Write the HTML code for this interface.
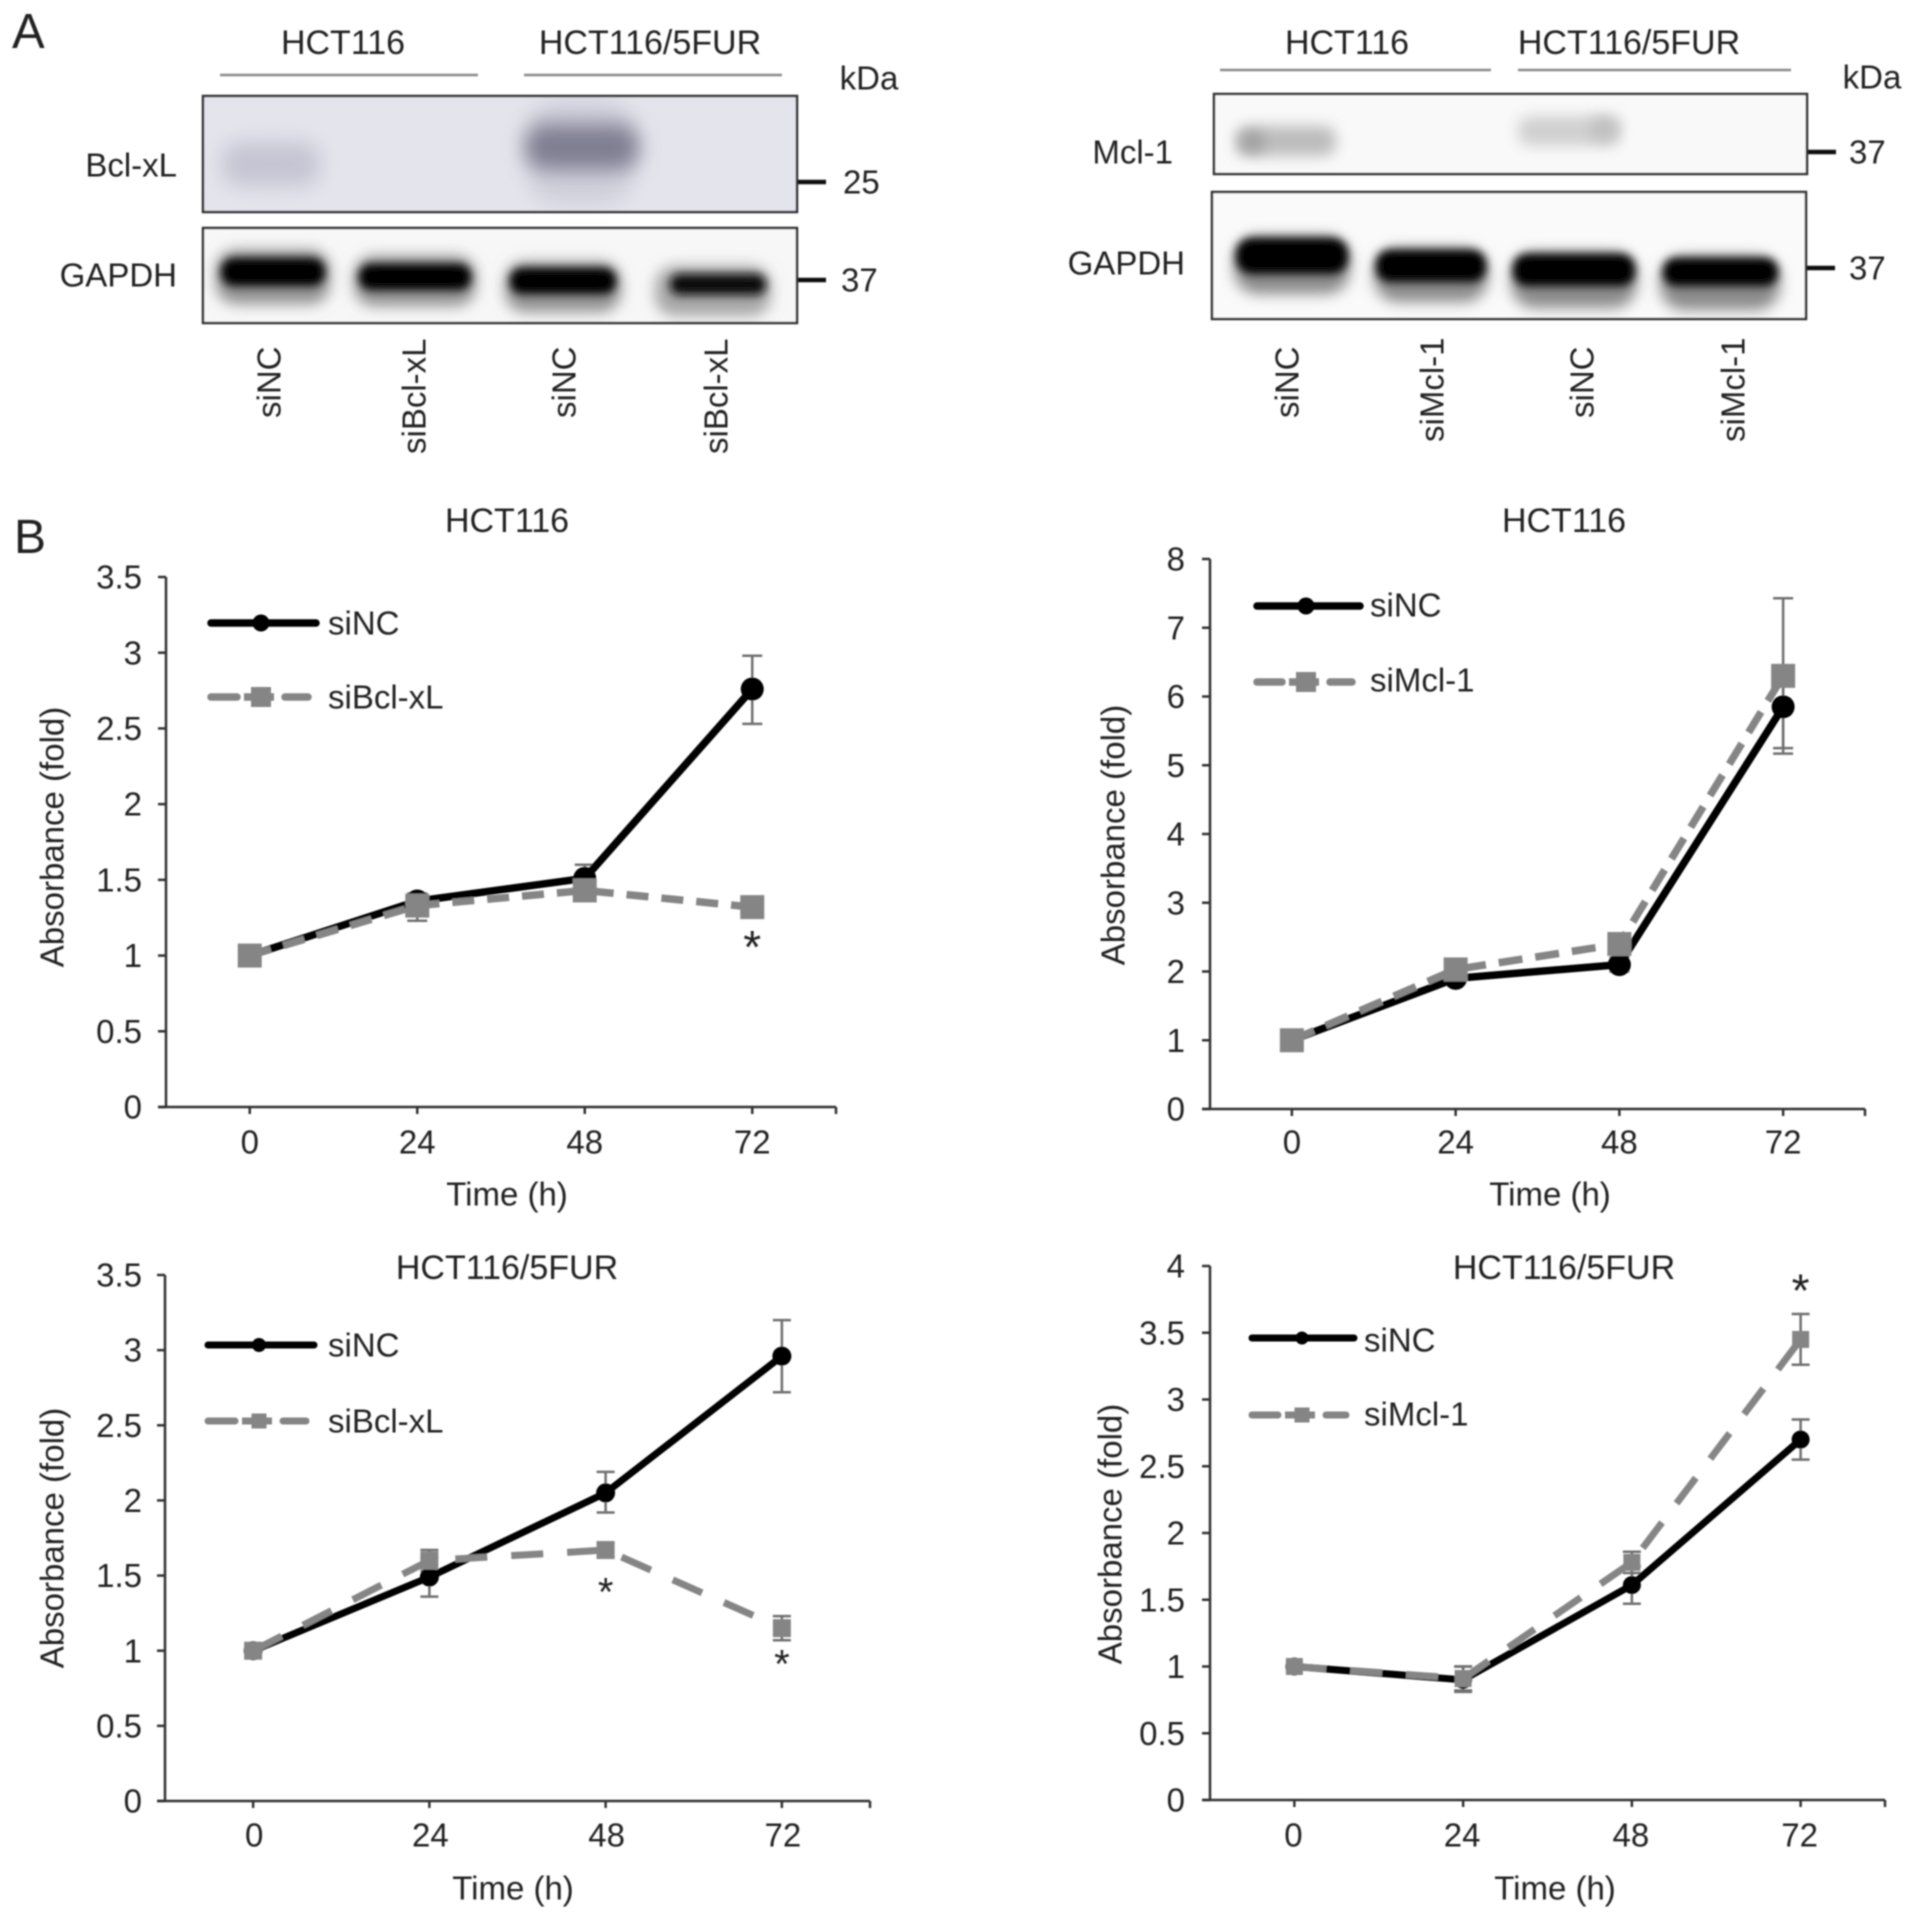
<!DOCTYPE html>
<html lang="en">
<head>
<meta charset="utf-8">
<title>Western blots and cell growth curves</title>
<style>
html,body{margin:0;padding:0;background:#fff;width:1913px;height:1918px;overflow:hidden}
svg{display:block}
text{font-family:"Liberation Sans",Arial,sans-serif;fill:#222;font-size:33px}
</style>
</head>
<body>
<svg id="figure" xmlns="http://www.w3.org/2000/svg" width="1913" height="1918" viewBox="0 0 1913 1918">
<defs>
<filter id="soft" x="-2%" y="-2%" width="104%" height="104%"><feGaussianBlur stdDeviation="0.75"/></filter>
<filter id="b4" x="-40%" y="-100%" width="180%" height="300%"><feGaussianBlur stdDeviation="4.5"/></filter>
<filter id="b7" x="-40%" y="-100%" width="180%" height="300%"><feGaussianBlur stdDeviation="7"/></filter>
<filter id="b10" x="-40%" y="-100%" width="180%" height="300%"><feGaussianBlur stdDeviation="10"/></filter>
<clipPath id="clip-bcl"><rect x="203" y="96" width="594" height="116"/></clipPath>
<clipPath id="clip-g1"><rect x="203" y="228" width="594" height="95"/></clipPath>
<clipPath id="clip-mcl"><rect x="1214" y="94" width="593" height="80"/></clipPath>
<clipPath id="clip-g2"><rect x="1212" y="192" width="594" height="127"/></clipPath>
</defs>
<rect width="1913" height="1918" fill="#fff"/>
<g id="root" filter="url(#soft)">

<text x="12" y="48" style="font-size:49px">A</text>
<text x="14" y="553" style="font-size:48px">B</text>

<!-- Left blot -->
<g>
<text x="343" y="42" dy=".35em" text-anchor="middle" style="font-size:34px">HCT116</text>
<text x="650" y="42" dy=".35em" text-anchor="middle" style="font-size:34px">HCT116/5FUR</text>
<line x1="220" y1="75" x2="478" y2="75" stroke="#8a8a8a" stroke-width="2.5"/>
<line x1="524" y1="75" x2="782" y2="75" stroke="#8a8a8a" stroke-width="2.5"/>
<text x="869" y="78" dy=".35em" text-anchor="middle" style="font-size:33px">kDa</text>

<g>
<rect x="203" y="96" width="594" height="116" fill="#e4e4ec"/>
<g clip-path="url(#clip-bcl)">
<rect x="222" y="142" width="98" height="44" rx="18" fill="#c5c5d3" filter="url(#b10)"/>
<rect x="528" y="100" width="105" height="105" rx="30" fill="#d0d0dc" filter="url(#b10)"/>
<rect x="525" y="124" width="114" height="46" rx="20" fill="#7f7f92" filter="url(#b10)"/>
</g>
<rect x="203" y="96" width="594" height="116" fill="none" stroke="#333" stroke-width="2.5"/>
</g>
<g>
<rect x="203" y="228" width="594" height="95" fill="#f7f7f7"/>
<g clip-path="url(#clip-g1)">
<rect x="216" y="250" width="114" height="54" rx="20" fill="#909090" filter="url(#b7)"/>
<rect x="354" y="256" width="122" height="50" rx="20" fill="#909090" filter="url(#b7)"/>
<rect x="505" y="262" width="116" height="50" rx="20" fill="#909090" filter="url(#b7)"/>
<rect x="655" y="266" width="116" height="50" rx="20" fill="#a6a6a6" filter="url(#b7)"/>
<rect x="221" y="258" width="104" height="28" rx="13" fill="#000" filter="url(#b4)"/>
<rect x="359" y="264" width="112" height="26" rx="12" fill="#000" filter="url(#b4)"/>
<rect x="510" y="268" width="106" height="26" rx="12" fill="#000" filter="url(#b4)"/>
<rect x="670" y="274" width="96" height="21" rx="10" fill="#111" filter="url(#b4)"/>
</g>
<rect x="203" y="228" width="594" height="95" fill="none" stroke="#333" stroke-width="2.5"/>
</g>
<text x="177" y="165" dy=".35em" text-anchor="end">Bcl-xL</text>
<text x="177" y="275" dy=".35em" text-anchor="end">GAPDH</text>
<line x1="798" y1="182" x2="826" y2="182" stroke="#111" stroke-width="4.5"/>
<line x1="798" y1="280" x2="826" y2="280" stroke="#111" stroke-width="4.5"/>
<text x="843" y="182" dy=".35em">25</text>
<text x="841" y="280" dy=".35em">37</text>
<text transform="translate(269,418) rotate(-90)" dy=".35em">siNC</text>
<text transform="translate(414,454) rotate(-90)" dy=".35em">siBcl-xL</text>
<text transform="translate(564,418) rotate(-90)" dy=".35em">siNC</text>
<text transform="translate(716,454) rotate(-90)" dy=".35em">siBcl-xL</text>
</g>

<!-- Right blot -->
<g>
<text x="1347" y="42" dy=".35em" text-anchor="middle" style="font-size:34px">HCT116</text>
<text x="1629" y="42" dy=".35em" text-anchor="middle" style="font-size:34px">HCT116/5FUR</text>
<line x1="1220" y1="70" x2="1491" y2="70" stroke="#8a8a8a" stroke-width="2.5"/>
<line x1="1518" y1="70" x2="1791" y2="70" stroke="#8a8a8a" stroke-width="2.5"/>
<text x="1872" y="77" dy=".35em" text-anchor="middle" style="font-size:33px">kDa</text>

<g>
<rect x="1214" y="94" width="593" height="80" fill="#f9f9f9"/>
<g clip-path="url(#clip-mcl)">
<rect x="1236" y="126" width="100" height="30" rx="12" fill="#bcbcbc" filter="url(#b7)"/>
<rect x="1240" y="132" width="24" height="20" rx="8" fill="#9f9f9f" filter="url(#b7)"/>
<rect x="1518" y="116" width="102" height="30" rx="12" fill="#d0d0d0" filter="url(#b7)"/>
<rect x="1590" y="118" width="28" height="22" rx="8" fill="#c0c0c0" filter="url(#b7)"/>
</g>
<rect x="1214" y="94" width="593" height="80" fill="none" stroke="#333" stroke-width="2.5"/>
</g>
<g>
<rect x="1212" y="192" width="594" height="127" fill="#fafafa"/>
<g clip-path="url(#clip-g2)">
<rect x="1234" y="236" width="116" height="58" rx="24" fill="#8a8a8a" filter="url(#b7)"/>
<rect x="1374" y="248" width="114" height="54" rx="24" fill="#8a8a8a" filter="url(#b7)"/>
<rect x="1511" y="252" width="126" height="56" rx="24" fill="#8a8a8a" filter="url(#b7)"/>
<rect x="1660" y="256" width="120" height="54" rx="24" fill="#8a8a8a" filter="url(#b7)"/>
<rect x="1236" y="238" width="112" height="36" rx="16" fill="#000" filter="url(#b4)"/>
<rect x="1376" y="250" width="110" height="32" rx="14" fill="#000" filter="url(#b4)"/>
<rect x="1513" y="254" width="122" height="32" rx="14" fill="#000" filter="url(#b4)"/>
<rect x="1663" y="258" width="115" height="28" rx="13" fill="#000" filter="url(#b4)"/>
</g>
<rect x="1212" y="192" width="594" height="127" fill="none" stroke="#333" stroke-width="2.5"/>
</g>
<text x="1173" y="152" dy=".35em" text-anchor="end">Mcl-1</text>
<text x="1185" y="263" dy=".35em" text-anchor="end">GAPDH</text>
<line x1="1808" y1="152" x2="1836" y2="152" stroke="#111" stroke-width="4.5"/>
<line x1="1807" y1="268" x2="1835" y2="268" stroke="#111" stroke-width="4.5"/>
<text x="1849" y="152" dy=".35em">37</text>
<text x="1849" y="268" dy=".35em">37</text>
<text transform="translate(1287,418) rotate(-90)" dy=".35em">siNC</text>
<text transform="translate(1432,442) rotate(-90)" dy=".35em">siMcl-1</text>
<text transform="translate(1582,418) rotate(-90)" dy=".35em">siNC</text>
<text transform="translate(1733,442) rotate(-90)" dy=".35em">siMcl-1</text>
</g>

<g id="charts"></g>
</g>
</svg>

<script>
// Shared categories
const timeCategories = ['0', '24', '48', '72'];

// Chart 1: HCT116, siBcl-xL
const c1Ticks = [0, 0.5, 1, 1.5, 2, 2.5, 3, 3.5];
const c1Control = [1, 1.36, 1.51, 2.76];
const c1ControlLow = [1, 1.31, 1.42, 2.53];
const c1ControlHigh = [1, 1.41, 1.6, 2.98];
const c1Knockdown = [1, 1.33, 1.43, 1.32];
const c1KnockdownLow = [1, 1.23, 1.38, 1.27];
const c1KnockdownHigh = [1, 1.39, 1.47, 1.37];
const c1StarCategories = [3];
const c1StarValues = [1.07];

// Chart 2: HCT116, siMcl-1
const c2Ticks = [0, 1, 2, 3, 4, 5, 6, 7, 8];
const c2Control = [1, 1.9, 2.1, 5.85];
const c2ControlLow = [1, 1.82, 2.0, 5.25];
const c2ControlHigh = [1, 1.98, 2.2, 6.4];
const c2Knockdown = [1, 2.03, 2.4, 6.3];
const c2KnockdownLow = [1, 1.94, 2.3, 5.17];
const c2KnockdownHigh = [1, 2.12, 2.5, 7.43];
const c2StarCategories = [];
const c2StarValues = [];

// Chart 3: HCT116/5FUR, siBcl-xL
const c3Ticks = [0, 0.5, 1, 1.5, 2, 2.5, 3, 3.5];
const c3Control = [1, 1.49, 2.05, 2.96];
const c3ControlLow = [1, 1.36, 1.92, 2.72];
const c3ControlHigh = [1, 1.62, 2.19, 3.2];
const c3Knockdown = [1, 1.6, 1.67, 1.15];
const c3KnockdownLow = [1, 1.53, 1.62, 1.07];
const c3KnockdownHigh = [1, 1.67, 1.72, 1.23];
const c3StarCategories = [2, 3];
const c3StarValues = [1.42, 0.94];

// Chart 4: HCT116/5FUR, siMcl-1
const c4Ticks = [0, 0.5, 1, 1.5, 2, 2.5, 3, 3.5, 4];
const c4Control = [1, 0.9, 1.61, 2.7];
const c4ControlLow = [1, 0.81, 1.47, 2.55];
const c4ControlHigh = [1, 1.0, 1.75, 2.85];
const c4Knockdown = [1, 0.91, 1.78, 3.45];
const c4KnockdownLow = [1, 0.82, 1.7, 3.26];
const c4KnockdownHigh = [1, 1.0, 1.86, 3.64];
const c4StarCategories = [3];
const c4StarValues = [3.83];

const NS = 'http://www.w3.org/2000/svg';
const chartsRoot = document.getElementById('charts');

function node(parent, tag, attrs, content) {
  const el = document.createElementNS(NS, tag);
  for (const k in attrs) el.setAttribute(k, attrs[k]);
  if (content !== undefined) el.textContent = content;
  parent.appendChild(el);
  return el;
}

function drawChart(cfg) {
  const L = cfg.layout;
  const g = node(chartsRoot, 'g', {});
  
  

  const yMax = cfg.ticks[cfg.ticks.length - 1];
  const xPos = function (i) { return L.left + (i + 0.5) * (L.right - L.left) / timeCategories.length; };
  const yPos = function (v) { return L.bottom - (v / yMax) * (L.bottom - L.top); };

  // axes
  const yAxis = node(g, 'line', { x1: L.left, x2: L.left, y1: L.top, y2: L.bottom, stroke: '#333', 'stroke-width': 2.5 });
  
  
  const xAxis = node(g, 'line', { x1: L.left - 8, x2: L.right, y1: L.bottom, y2: L.bottom, stroke: '#333', 'stroke-width': 2.5 });
  
  
  const endTick = node(g, 'line', { x1: L.right, x2: L.right, y1: L.bottom, y2: L.bottom + 7, stroke: '#333', 'stroke-width': 2.5 });
  
  

  cfg.ticks.forEach(function (v) {
    const t = node(g, 'line', { x1: L.left - 8, x2: L.left, y1: yPos(v), y2: yPos(v), stroke: '#333', 'stroke-width': 2.5 });
    
    
    const lab = node(g, 'text', { x: L.yLabelRight, y: yPos(v), dy: '.35em', 'text-anchor': 'end' }, String(v));
    
    
  });

  timeCategories.forEach(function (c, i) {
    const t = node(g, 'line', { x1: xPos(i), x2: xPos(i), y1: L.bottom, y2: L.bottom + 7, stroke: '#333', 'stroke-width': 2.5 });
    
    
    const lab = node(g, 'text', { x: xPos(i) + L.xLabelShift, y: L.xLabelY, dy: '.35em', 'text-anchor': 'middle' }, c);
    
    
  });

  // titles
  const title = node(g, 'text', { x: L.titleX, y: L.titleY, dy: '.35em', 'text-anchor': 'middle', style: 'font-size:34px' }, cfg.title);
  
  
  const xTitle = node(g, 'text', { x: L.xTitleX, y: L.xTitleY, dy: '.35em', 'text-anchor': 'middle' }, 'Time (h)');
  
  
  const yTitle = node(g, 'text', { transform: 'translate(' + L.yTitleX + ',' + L.yTitleY + ') rotate(-90)', dy: '.35em', 'text-anchor': 'middle' }, 'Absorbance (fold)');
  
  

  // error bars
  function errorBars(low, high, name) {
    timeCategories.forEach(function (c, i) {
      if (low[i] === high[i]) return;
      const eg = node(g, 'g', { stroke: '#6f6f6f', 'stroke-width': 2.5 });
      
      
      node(eg, 'line', { x1: xPos(i), x2: xPos(i), y1: yPos(low[i]), y2: yPos(high[i]) });
      node(eg, 'line', { x1: xPos(i) - L.cap, x2: xPos(i) + L.cap, y1: yPos(low[i]), y2: yPos(low[i]) });
      node(eg, 'line', { x1: xPos(i) - L.cap, x2: xPos(i) + L.cap, y1: yPos(high[i]), y2: yPos(high[i]) });
    });
  }
  errorBars(cfg.controlLow, cfg.controlHigh, 'error-bar-sinc');
  errorBars(cfg.knockdownLow, cfg.knockdownHigh, 'error-bar-knockdown');

  // control series
  const ncLine = node(g, 'polyline', {
    points: cfg.control.map(function (v, i) { return xPos(i) + ',' + yPos(v); }).join(' '),
    fill: 'none', stroke: '#050505', 'stroke-width': L.lineWidth, 'stroke-linejoin': 'round'
  });
  
  
  cfg.control.forEach(function (v, i) {
    const p = node(g, 'circle', { cx: xPos(i), cy: yPos(v), r: L.circle, fill: '#050505' });
    
    
  });

  // knockdown series
  const kdLine = node(g, 'polyline', {
    points: cfg.knockdown.map(function (v, i) { return xPos(i) + ',' + yPos(v); }).join(' '),
    fill: 'none', stroke: '#858585', 'stroke-width': L.lineWidth, 'stroke-dasharray': L.dash, 'stroke-linejoin': 'round'
  });
  
  
  cfg.knockdown.forEach(function (v, i) {
    const p = node(g, 'rect', { x: xPos(i) - L.square / 2, y: yPos(v) - L.square / 2, width: L.square, height: L.square, fill: '#858585' });
    
    
  });

  // significance stars
  cfg.starCategories.forEach(function (c, k) {
    const s = node(g, 'text', { x: xPos(c), y: yPos(cfg.starValues[k]) + 18, 'text-anchor': 'middle', style: 'font-size:' + L.starSize + 'px' }, '*');
    
    
  });

  // legend
  const leg1 = node(g, 'g', {});
  
  
  node(leg1, 'line', { x1: L.legX1, x2: L.legX2, y1: L.legY1, y2: L.legY1, stroke: '#050505', 'stroke-width': L.lineWidth, 'stroke-linecap': 'round' });
  node(leg1, 'circle', { cx: L.legMark, cy: L.legY1, r: L.legCircle, fill: '#050505' });
  node(leg1, 'text', { x: L.legText, y: L.legTextY1, dy: '.35em' }, 'siNC');

  const leg2 = node(g, 'g', {});
  
  
  node(leg2, 'line', { x1: L.legX1, x2: L.legMark - 24, y1: L.legY2, y2: L.legY2, stroke: '#858585', 'stroke-width': L.lineWidth, 'stroke-linecap': 'round' });
  node(leg2, 'line', { x1: L.legMark - 17, x2: L.legMark + 13, y1: L.legY2, y2: L.legY2, stroke: '#858585', 'stroke-width': L.lineWidth });
  node(leg2, 'line', { x1: L.legMark + 24, x2: L.legX2 - 8, y1: L.legY2, y2: L.legY2, stroke: '#858585', 'stroke-width': L.lineWidth, 'stroke-linecap': 'round' });
  node(leg2, 'rect', { x: L.legMark - L.legSquare / 2, y: L.legY2 - L.legSquare / 2, width: L.legSquare, height: L.legSquare, fill: '#858585' });
  node(leg2, 'text', { x: L.legText, y: L.legTextY2, dy: '.35em' }, cfg.knockdownName);
}

const c1Layout = { left: 166, right: 836, top: 577, bottom: 1107, yLabelRight: 142, xLabelY: 1142, xLabelShift: 0, titleX: 507, titleY: 520, xTitleX: 507, xTitleY: 1194, yTitleX: 52, yTitleY: 837, cap: 10, circle: 11.5, square: 24, lineWidth: 7.5, dash: '22 13', starSize: 46, legX1: 211, legX2: 316, legY1: 623, legY2: 697, legMark: 261, legCircle: 8.5, legSquare: 20, legText: 328, legTextY1: 623, legTextY2: 697 };
const c2Layout = { left: 1210, right: 1865, top: 559, bottom: 1109, yLabelRight: 1185, xLabelY: 1142, xLabelShift: 0, titleX: 1564, titleY: 520, xTitleX: 1550, xTitleY: 1194, yTitleX: 1113, yTitleY: 835, cap: 10, circle: 11.5, square: 24, lineWidth: 7.5, dash: '24 13', starSize: 46, legX1: 1257, legX2: 1360, legY1: 606, legY2: 682, legMark: 1306, legCircle: 8.5, legSquare: 20, legText: 1370, legTextY1: 605, legTextY2: 680 };
const c3Layout = { left: 165, right: 870, top: 1275, bottom: 1801, yLabelRight: 142, xLabelY: 1835, xLabelShift: 1, titleX: 507, titleY: 1267, xTitleX: 513, xTitleY: 1888, yTitleX: 52, yTitleY: 1538, cap: 9, circle: 9.5, square: 18, lineWidth: 7, dash: '32 24', starSize: 40, legX1: 208, legX2: 314, legY1: 1345, legY2: 1421, legMark: 259, legCircle: 7, legSquare: 15, legText: 328, legTextY1: 1345, legTextY2: 1421 };
const c4Layout = { left: 1210, right: 1885, top: 1266, bottom: 1800, yLabelRight: 1185, xLabelY: 1835, xLabelShift: -1, titleX: 1564, titleY: 1267, xTitleX: 1555, xTitleY: 1888, yTitleX: 1110, yTitleY: 1534, cap: 9, circle: 9, square: 17, lineWidth: 7, dash: '32 24', starSize: 46, legX1: 1252, legX2: 1354, legY1: 1338, legY2: 1415, legMark: 1302, legCircle: 6.5, legSquare: 15, legText: 1364, legTextY1: 1340, legTextY2: 1414 };

drawChart({ id: 'chart-hct116-sibcl-xl', title: 'HCT116', knockdownName: 'siBcl-xL', layout: c1Layout, ticks: c1Ticks, control: c1Control, controlLow: c1ControlLow, controlHigh: c1ControlHigh, knockdown: c1Knockdown, knockdownLow: c1KnockdownLow, knockdownHigh: c1KnockdownHigh, starCategories: c1StarCategories, starValues: c1StarValues });
drawChart({ id: 'chart-hct116-simcl-1', title: 'HCT116', knockdownName: 'siMcl-1', layout: c2Layout, ticks: c2Ticks, control: c2Control, controlLow: c2ControlLow, controlHigh: c2ControlHigh, knockdown: c2Knockdown, knockdownLow: c2KnockdownLow, knockdownHigh: c2KnockdownHigh, starCategories: c2StarCategories, starValues: c2StarValues });
drawChart({ id: 'chart-hct116-5fur-sibcl-xl', title: 'HCT116/5FUR', knockdownName: 'siBcl-xL', layout: c3Layout, ticks: c3Ticks, control: c3Control, controlLow: c3ControlLow, controlHigh: c3ControlHigh, knockdown: c3Knockdown, knockdownLow: c3KnockdownLow, knockdownHigh: c3KnockdownHigh, starCategories: c3StarCategories, starValues: c3StarValues });
drawChart({ id: 'chart-hct116-5fur-simcl-1', title: 'HCT116/5FUR', knockdownName: 'siMcl-1', layout: c4Layout, ticks: c4Ticks, control: c4Control, controlLow: c4ControlLow, controlHigh: c4ControlHigh, knockdown: c4Knockdown, knockdownLow: c4KnockdownLow, knockdownHigh: c4KnockdownHigh, starCategories: c4StarCategories, starValues: c4StarValues });
</script>
</body>
</html>
